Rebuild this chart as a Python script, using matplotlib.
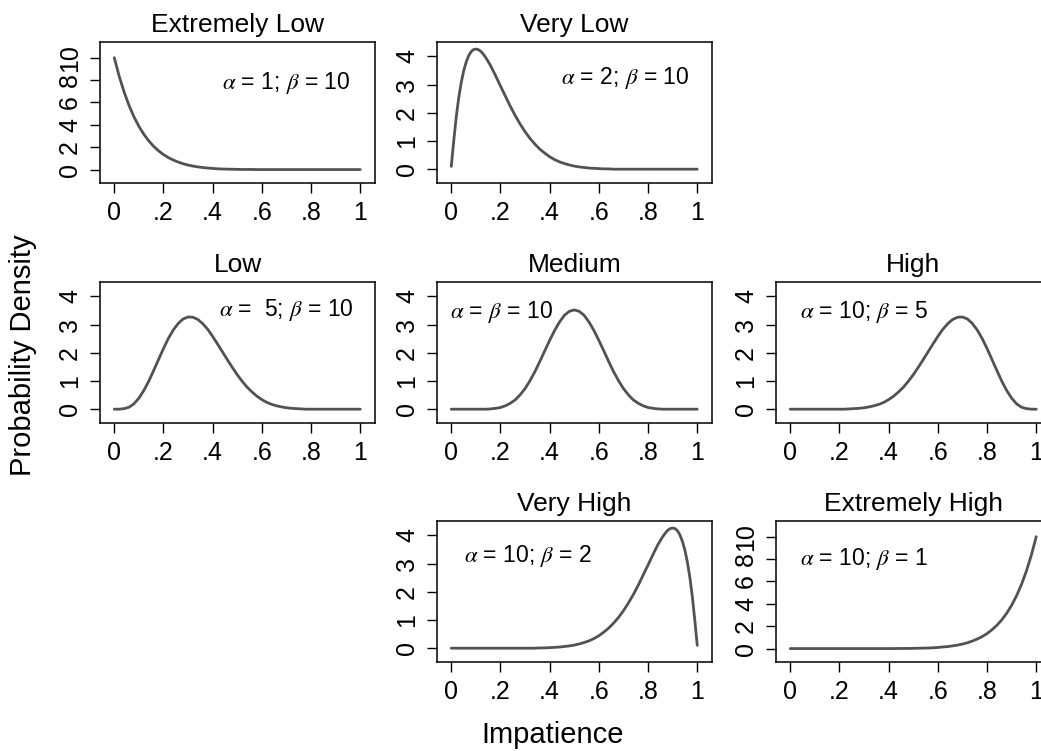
import matplotlib
matplotlib.use("Agg")
import matplotlib.pyplot as plt

# ---------------- data ----------------
impatience = [0.00, 0.02, 0.04, 0.06, 0.08, 0.10, 0.12, 0.14, 0.16, 0.18,
              0.20, 0.22, 0.24, 0.26, 0.28, 0.30, 0.32, 0.34, 0.36, 0.38,
              0.40, 0.42, 0.44, 0.46, 0.48, 0.50, 0.52, 0.54, 0.56, 0.58,
              0.60, 0.62, 0.64, 0.66, 0.68, 0.70, 0.72, 0.74, 0.76, 0.78,
              0.80, 0.82, 0.84, 0.86, 0.88, 0.90, 0.92, 0.94, 0.96, 0.98, 1.00]

# finer sampling where the skewed curves turn sharply
impatience_very_low = [0.00, 0.01, 0.02, 0.03, 0.04, 0.05, 0.06, 0.07, 0.08, 0.09,
                       0.10, 0.11, 0.12, 0.13, 0.14, 0.16, 0.18,
                       0.20, 0.22, 0.24, 0.26, 0.28, 0.30, 0.32, 0.34, 0.36, 0.38,
                       0.40, 0.42, 0.44, 0.46, 0.48, 0.50, 0.52, 0.54, 0.56, 0.58,
                       0.60, 0.62, 0.64, 0.66, 0.68, 0.70, 0.72, 0.74, 0.76, 0.78,
                       0.80, 0.82, 0.84, 0.86, 0.88, 0.90, 0.92, 0.94, 0.96, 0.98, 1.00]
impatience_very_high = [0.00, 0.02, 0.04, 0.06, 0.08, 0.10, 0.12, 0.14, 0.16, 0.18,
                        0.20, 0.22, 0.24, 0.26, 0.28, 0.30, 0.32, 0.34, 0.36, 0.38,
                        0.40, 0.42, 0.44, 0.46, 0.48, 0.50, 0.52, 0.54, 0.56, 0.58,
                        0.60, 0.62, 0.64, 0.66, 0.68, 0.70, 0.72, 0.74, 0.76, 0.78,
                        0.80, 0.82, 0.84, 0.86, 0.87, 0.88, 0.89, 0.90, 0.91,
                        0.92, 0.93, 0.94, 0.95, 0.96, 0.97, 0.98, 0.99, 1.00]

dens_extremely_low = [10.00, 8.34, 6.93, 5.73, 4.72, 3.87, 3.16, 2.57, 2.08, 1.68,
                      1.34, 1.07, 0.85, 0.67, 0.52, 0.40, 0.31, 0.24, 0.18, 0.14,
                      0.10, 0.07, 0.05, 0.04, 0.03, 0.02, 0.01, 0.01, 0.01, 0.00,
                      0.00, 0.00, 0.00, 0.00, 0.00, 0.00, 0.00, 0.00, 0.00, 0.00,
                      0.00, 0.00, 0.00, 0.00, 0.00, 0.00, 0.00, 0.00, 0.00, 0.00, 0.00]

dens_very_low = [0.10, 1.00, 1.83, 2.51, 3.05, 3.47, 3.78, 4.01, 4.16, 4.24,
                 4.26, 4.24, 4.18, 4.08, 3.96, 3.67, 3.32,
                 2.95, 2.59, 2.23, 1.90, 1.60, 1.33, 1.09, 0.89, 0.71, 0.57,
                 0.44, 0.34, 0.26, 0.20, 0.15, 0.11, 0.08, 0.06, 0.04, 0.03,
                 0.02, 0.01, 0.01, 0.00, 0.00, 0.00, 0.00, 0.00, 0.00, 0.00,
                 0.00, 0.00, 0.00, 0.00, 0.00, 0.00, 0.00, 0.00, 0.00, 0.00, 0.00]

dens_low = [0.00, 0.00, 0.02, 0.07, 0.19, 0.39, 0.66, 0.99, 1.37, 1.76,
            2.15, 2.51, 2.81, 3.04, 3.20, 3.27, 3.26, 3.18, 3.03, 2.83,
            2.58, 2.31, 2.03, 1.75, 1.48, 1.22, 0.99, 0.78, 0.61, 0.46,
            0.34, 0.24, 0.17, 0.12, 0.08, 0.05, 0.03, 0.02, 0.01, 0.00,
            0.00, 0.00, 0.00, 0.00, 0.00, 0.00, 0.00, 0.00, 0.00, 0.00, 0.00]

dens_medium = [0.00, 0.00, 0.00, 0.00, 0.00, 0.00, 0.00, 0.00, 0.01, 0.03,
               0.06, 0.12, 0.21, 0.33, 0.51, 0.73, 1.01, 1.33, 1.69, 2.07,
               2.44, 2.79, 3.09, 3.33, 3.47, 3.52, 3.47, 3.33, 3.09, 2.79,
               2.44, 2.07, 1.69, 1.33, 1.01, 0.73, 0.51, 0.33, 0.21, 0.12,
               0.06, 0.03, 0.01, 0.00, 0.00, 0.00, 0.00, 0.00, 0.00, 0.00, 0.00]

dens_high = [0.00, 0.00, 0.00, 0.00, 0.00, 0.00, 0.00, 0.00, 0.00, 0.00,
             0.00, 0.00, 0.01, 0.02, 0.03, 0.05, 0.08, 0.12, 0.17, 0.24,
             0.34, 0.46, 0.61, 0.78, 0.99, 1.22, 1.48, 1.75, 2.03, 2.31,
             2.58, 2.83, 3.03, 3.18, 3.26, 3.27, 3.20, 3.04, 2.81, 2.51,
             2.15, 1.76, 1.37, 0.99, 0.66, 0.39, 0.19, 0.07, 0.02, 0.00, 0.00]

dens_very_high = [0.00, 0.00, 0.00, 0.00, 0.00, 0.00, 0.00, 0.00, 0.00, 0.00,
                  0.00, 0.00, 0.00, 0.00, 0.00, 0.00, 0.00, 0.00, 0.01, 0.01,
                  0.02, 0.03, 0.04, 0.06, 0.08, 0.11, 0.15, 0.20, 0.26, 0.34,
                  0.44, 0.57, 0.71, 0.89, 1.09, 1.33, 1.60, 1.90, 2.23, 2.59,
                  2.95, 3.32, 3.67, 3.96, 4.08, 4.18, 4.24, 4.26, 4.24,
                  4.16, 4.01, 3.78, 3.47, 3.05, 2.51, 1.83, 1.00, 0.10]

dens_extremely_high = [0.00, 0.00, 0.00, 0.00, 0.00, 0.00, 0.00, 0.00, 0.00, 0.00,
                       0.00, 0.00, 0.00, 0.00, 0.00, 0.00, 0.00, 0.00, 0.00, 0.00,
                       0.00, 0.00, 0.01, 0.01, 0.01, 0.02, 0.03, 0.04, 0.05, 0.07,
                       0.10, 0.14, 0.18, 0.24, 0.31, 0.40, 0.52, 0.67, 0.85, 1.07,
                       1.34, 1.68, 2.08, 2.57, 3.16, 3.87, 4.72, 5.73, 6.93, 8.34, 10.00]

panel_titles = ["Extremely Low", "Very Low", "Low", "Medium", "High",
                "Very High", "Extremely High"]
panel_params = [r"$\alpha$ = 1; $\beta$ = 10", r"$\alpha$ = 2; $\beta$ = 10",
                r"$\alpha$ =  5; $\beta$ = 10", r"$\alpha$ = $\beta$ = 10",
                r"$\alpha$ = 10; $\beta$ = 5", r"$\alpha$ = 10; $\beta$ = 2",
                r"$\alpha$ = 10; $\beta$ = 1"]
panel_x = [impatience, impatience_very_low, impatience, impatience,
           impatience, impatience_very_high, impatience]
panel_dens = [dens_extremely_low, dens_very_low, dens_low, dens_medium,
              dens_high, dens_very_high, dens_extremely_high]

x_ticks = [0, 0.2, 0.4, 0.6, 0.8, 1]
x_ticklabels = ["0", ".2", ".4", ".6", ".8", "1"]
y_ticks_wide = [0, 2, 4, 6, 8, 10]
y_ticks_narrow = [0, 1, 2, 3, 4]

# ---------------- layout ----------------
plt.rcParams['font.family'] = ['Liberation Sans', 'DejaVu Sans']
plt.rcParams['mathtext.fontset'] = 'stix'

W, H = 1041, 751
fig = plt.figure(figsize=(W / 100, H / 100), dpi=100)

col_left = [100, 437, 776]
row_top = [42, 282, 521]
box_w, box_h = 275, 141
grid_pos = [(0, 0), (0, 1), (1, 0), (1, 1), (1, 2), (2, 1), (2, 2)]
text_pos = [(0.678, 0.71), (0.684, 0.745), (0.679, 0.80), (0.235, 0.79),
            (0.32, 0.79), (0.332, 0.75), (0.32, 0.73)]

line_col = "#525252"

for i, (r, c) in enumerate(grid_pos):
    left = col_left[c] / W
    bottom = 1 - (row_top[r] + box_h) / H
    ax = fig.add_axes([left, bottom, box_w / W, box_h / H])
    ax.plot(panel_x[i], panel_dens[i], color=line_col, lw=2.0,
            solid_capstyle="round", solid_joinstyle="round")
    ax.set_xlim(-0.058, 1.06)
    if i in (0, 6):
        ax.set_ylim(-1.2, 11.4)
        ax.set_yticks(y_ticks_wide)
        ax.set_yticklabels([str(t) for t in y_ticks_wide])
    else:
        ax.set_ylim(-0.49, 4.51)
        ax.set_yticks(y_ticks_narrow)
        ax.set_yticklabels([str(t) for t in y_ticks_narrow])
    ax.set_xticks(x_ticks)
    ax.set_xticklabels(x_ticklabels)
    ax.tick_params(direction="out", length=7, width=1.0, labelsize=18,
                   pad=6, colors="black")
    for lab in ax.get_yticklabels():
        lab.set_rotation(90)
        lab.set_va("center")
    for s in ax.spines.values():
        s.set_linewidth(1.1)
    ax.set_title(panel_titles[i], fontsize=19, pad=7)
    tx, ty = text_pos[i]
    ax.text(tx, ty, panel_params[i], transform=ax.transAxes,
            ha="center", va="center", fontsize=16.5)

fig.text(553 / W, 1 - 743 / H, "Impatience", ha="center", va="baseline",
         fontsize=21)
fig.text(23 / W, 1 - 355 / H, "Probability Density", ha="center",
         va="center", rotation=90, fontsize=21)

fig.savefig("out.png", dpi=100)
